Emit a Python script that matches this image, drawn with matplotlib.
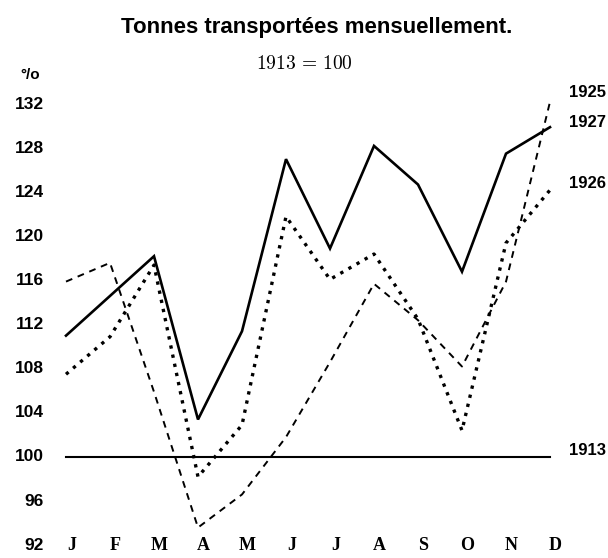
import matplotlib
matplotlib.use("Agg")
import matplotlib.pyplot as plt

# monthly tonnage index, 1913 = 100
months = ["J", "F", "M", "A", "M", "J", "J", "A", "S", "O", "N", "D"]
y1925 = [115.9, 117.6, 105.9, 93.6, 96.6, 101.8, 108.6, 115.7, 112.4, 108.2, 115.9, 132.2]
y1926 = [107.5, 110.9, 117.4, 98.2, 102.9, 121.8, 116.1, 118.4, 112.5, 102.4, 119.4, 124.2]
y1927 = [111.0, 114.6, 118.2, 103.4, 111.4, 127.0, 118.9, 128.2, 124.7, 116.8, 127.5, 129.9]
base_1913 = 100
yticks = list(range(92, 133, 4))

sans = ["Liberation Sans", "DejaVu Sans"]
serif = ["Liberation Serif", "DejaVu Serif"]
plt.rcParams["mathtext.fontset"] = "cm"

fig = plt.figure(figsize=(6.08, 5.58), dpi=100)
ax = fig.add_axes([0, 0, 1, 1])
ax.set_xlim(-1.5, 12.318)
ax.set_ylim(90.84, 141.43)
ax.axis("off")

x = list(range(len(months)))

ax.plot([x[0], x[-1]], [base_1913, base_1913], color="black", lw=1.5)
ax.plot(x, y1925, color="black", lw=1.4, linestyle=(0, (3.5, 3)))
ax.plot(x, y1926, color="black", lw=2.4, linestyle=(0, (1.0, 1.8)))
ax.plot(x, y1927, color="black", lw=1.9, solid_joinstyle="miter")

for v in yticks:
    ax.text(-0.5, v, str(v), ha="right", va="center", fontsize=12.5,
            fontweight="bold", family=sans)
ax.text(-0.82, 134.6, "°/o", ha="center", va="center", fontsize=11,
        fontweight="bold", family=sans)

for i, m in enumerate(months):
    ax.text(i + 0.12, 92, m, ha="center", va="center", fontsize=13,
            fontweight="bold", family=serif)

# series labels at the right end
ax.text(11.43, 133.0, "1925", ha="left", va="center", fontsize=12, fontweight="bold", family=sans)
ax.text(11.43, 130.3, "1927", ha="left", va="center", fontsize=12, fontweight="bold", family=sans)
ax.text(11.43, 124.75, "1926", ha="left", va="center", fontsize=12, fontweight="bold", family=sans)
ax.text(11.43, 100.6, "1913", ha="left", va="center", fontsize=12, fontweight="bold", family=sans)

fig.text(0.521, 0.950, "Tonnes transportées mensuellement.", ha="center", va="center",
         fontsize=16, fontweight="bold", family=sans)
fig.text(0.5, 0.887, r"$1913\,=\,100$", ha="center", va="center", fontsize=14)

fig.savefig("out.png", dpi=100)
